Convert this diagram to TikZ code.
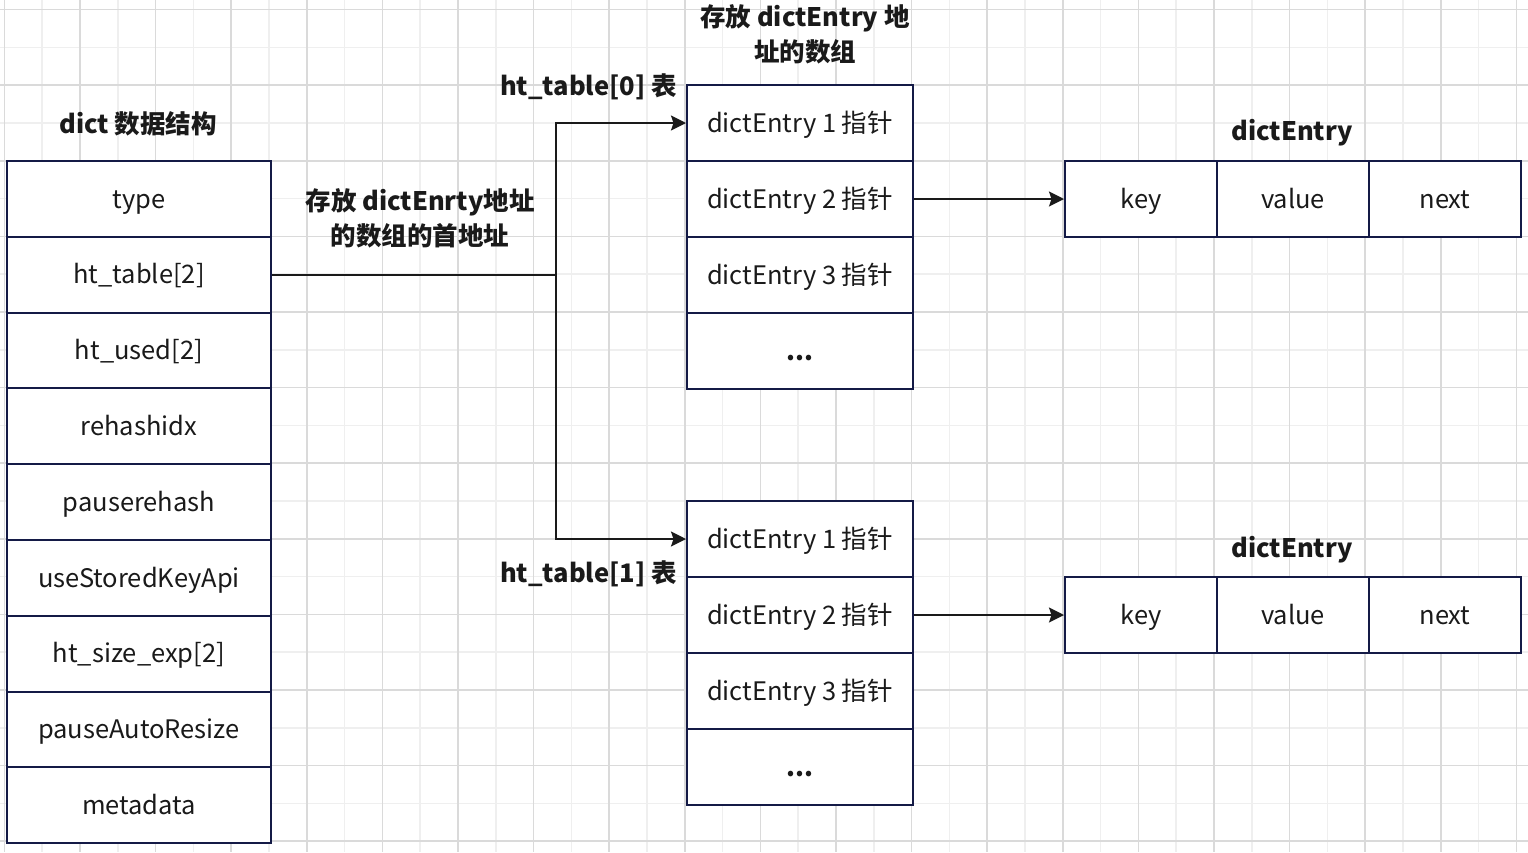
\documentclass[tikz,border=0pt]{standalone}
\usepackage{fontspec}
\setmainfont{Noto Sans CJK SC}
\usepackage{tikz}
\usetikzlibrary{matrix, arrows.meta, calc}

\definecolor{boxline}{HTML}{141A46}
\definecolor{ink}{HTML}{1A1A1A}
\definecolor{gridmajor}{HTML}{DADADA}
\definecolor{gridminor}{HTML}{EFEFEF}

\begin{document}
\begin{tikzpicture}[x=1pt,y=-1pt,
         ampersand replacement=\&,
         cell/.style={draw=boxline,line width=2pt,fill=white,inner sep=0pt,
            anchor=center,text height=18.5pt,text depth=0pt,
            text=ink,font=\fontsize{25.5}{30}\selectfont},
         label/.style={text=ink,inner sep=0pt,align=center,
            font=\fontsize{25.5}{35}\selectfont\bfseries},
         link/.style={-{Stealth[length=15pt,width=15pt,inset=2.5pt]},draw=ink,line width=2pt}]
            \useasboundingbox (0,0) rectangle (1528,852);
            \fill[white] (0,0) rectangle (1528,852);
            % background grid
            \foreach \i in {1,3,...,39} {
               \draw[gridminor,line width=1.5pt] ({4.4+37.8*\i},0) -- ({4.4+37.8*\i},852);
            }
            \foreach \j in {1,3,...,21} {
               \draw[gridminor,line width=1.5pt] (0,{9.6+37.8*\j}) -- (1528,{9.6+37.8*\j});
            }
            \foreach \i in {0,2,...,40} {
               \draw[gridmajor,line width=1.5pt] ({4.4+37.8*\i},0) -- ({4.4+37.8*\i},852);
            }
            \foreach \j in {0,2,...,22} {
               \draw[gridmajor,line width=1.5pt] (0,{9.6+37.8*\j}) -- (1528,{9.6+37.8*\j});
            }
            % dict struct
            \matrix (dict) at (139,502) [
                matrix of nodes,
                inner sep=0pt,line width=2pt,
                row sep=-\pgflinewidth,
                nodes={cell,minimum width=264pt,minimum height=75.8pt}
            ]{
            type \\
            ht\_table[2] \\
            ht\_used[2] \\
            rehashidx \\
            pauserehash \\
            useStoredKeyApi \\
            ht\_size\_exp[2] \\
            pauseAutoResize \\
            metadata \\
            };
            % the two tables
            \matrix (ht0) at (800,237) [
                matrix of nodes,
                inner sep=0pt,line width=2pt,
                row sep=-\pgflinewidth,
                nodes={cell,minimum width=226pt,minimum height=76pt}
            ]{
            dictEntry 1 指针 \\
            dictEntry 2 指针 \\
            dictEntry 3 指针 \\
            \textbf{...} \\
            };
            \matrix (ht1) at (800,653) [
                matrix of nodes,
                inner sep=0pt,line width=2pt,
                row sep=-\pgflinewidth,
                nodes={cell,minimum width=226pt,minimum height=76pt}
            ]{
            dictEntry 1 指针 \\
            dictEntry 2 指针 \\
            dictEntry 3 指针 \\
            \textbf{...} \\
            };
            % entries
            \matrix (entry0) at (1293,199) [
                matrix of nodes,
                inner sep=0pt,line width=2pt,
                column sep=-\pgflinewidth,
                nodes={cell,minimum width=152pt,minimum height=76pt}
            ]{
            key \& value \& next \\
            };
            \matrix (entry1) at (1293,615) [
                matrix of nodes,
                inner sep=0pt,line width=2pt,
                column sep=-\pgflinewidth,
                nodes={cell,minimum width=152pt,minimum height=76pt}
            ]{
            key \& value \& next \\
            };
            % titles
            \node [label] (dictTitle) at (138,124) {dict 数据结构};
            \node [label] (forkNote) at (420,218) {存放 dictEnrty地址\\的数组的首地址};
            \node [label,anchor=east] (ht0Title) at (677,87) {ht\_table[0] 表};
            \node [label] (arrTitle) at (805,34) {存放 dictEntry 地\\址的数组};
            \node [label,anchor=east] (ht1Title) at (677,574) {ht\_table[1] 表};
            \node [label] (entry0Title) at (1292,133) {dictEntry};
            \node [label] (entry1Title) at (1292,550) {dictEntry};
            % pointers
            \coordinate (fork) at ([xshift=284pt]dict-2-1.east);
            \draw [link,-] (dict-2-1.east) -- (fork);
            \draw [link] (fork) |- (ht0-1-1.west);
            \draw [link] (fork) |- (ht1-1-1.west);
            \draw [link] (ht0-2-1.east) -- (entry0-1-1.west);
            \draw [link] (ht1-2-1.east) -- (entry1-1-1.west);
         \end{tikzpicture}
\end{document}
